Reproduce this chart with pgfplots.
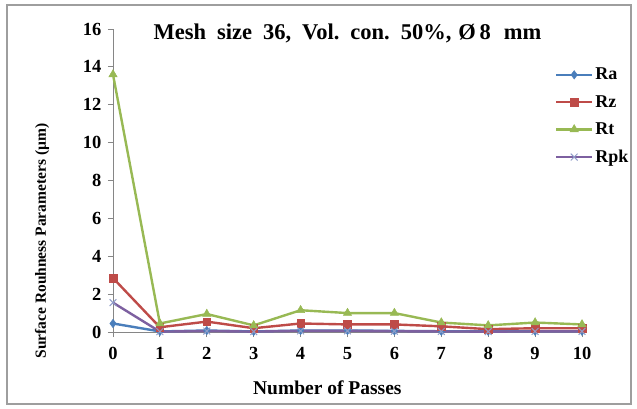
\documentclass[border=0pt]{standalone}
\usepackage{pgfplots}
\pgfplotsset{compat=1.18}
\usepackage{fontspec}
\setmainfont{Liberation Serif}
\definecolor{cRa}{HTML}{4A7EBB}
\definecolor{cRz}{HTML}{BE4B48}
\definecolor{cRt}{HTML}{98B954}
\definecolor{cRpk}{HTML}{7D60A0}
\definecolor{axgray}{HTML}{868686}
\begin{document}
\begin{tikzpicture}[x=1pt,y=1pt]
\useasboundingbox (-113,-76) rectangle (524,332);
\draw[color=axgray!80, line width=1.2pt] (-106,-72) rectangle (518,327);
\begin{axis}[
  at={(0,0)}, anchor=south west,
  scale only axis, width=469pt, height=303pt,
  xmin=0, xmax=10, ymin=0, ymax=16,
  axis x line=bottom, axis y line=left,
  axis line style={color=axgray, line width=0.9pt, -},
  xtick={0,...,10}, ytick={0,2,...,16},
  tick align=outside, major tick length=5pt,
  tick style={color=axgray, line width=0.9pt},
  ticklabel style={font=\fontsize{18.5}{22}\selectfont\bfseries},
  /pgf/number format/assume math mode=true,
  xticklabel style={yshift=-7pt},
  yticklabel style={xshift=-3pt},
  xlabel={Number of Passes},
  ylabel={Surface Rouhness Parameters (\textmu m)},
  xlabel style={font=\fontsize{19.5}{23}\selectfont\bfseries, at={(axis description cs:0.457,-0.185)}, anchor=center},
  ylabel style={font=\fontsize{15.5}{18}\selectfont\bfseries, at={(axis description cs:-0.151,0.30)}, anchor=center, rotate=0},
  clip=false,
  legend style={draw=none, fill=none, at={(axis description cs:0.942,0.878)}, anchor=north west,
    font=\fontsize{18}{21}\selectfont\bfseries, row sep=10pt, inner sep=0pt},
  legend cell align=left,
  legend image code/.code={
    \draw[#1, mark repeat=2, mark phase=2] plot coordinates {(0pt,0pt) (18pt,0pt) (36pt,0pt)};
  },
]
\addplot[color=cRa, line width=2.4pt, mark=diamond*, mark size=4.2pt, mark options={fill=cRa, line width=0.5pt}]
 coordinates {(0,0.45) (1,0.03) (2,0.08) (3,0.03) (4,0.08) (5,0.08) (6,0.06) (7,0.04) (8,0.04) (9,0.04) (10,0.04)};
\addlegendentry{Ra}
\addplot[color=cRz, line width=2.4pt, mark=square*, mark size=3.8pt, mark options={fill=cRz, line width=0.5pt}]
 coordinates {(0,2.85) (1,0.25) (2,0.55) (3,0.2) (4,0.45) (5,0.4) (6,0.4) (7,0.3) (8,0.15) (9,0.2) (10,0.2)};
\addlegendentry{Rz}
\addplot[color=cRt, line width=2.4pt, mark=triangle*, mark size=4.8pt, mark options={fill=cRt, line width=0.5pt}]
 coordinates {(0,13.6) (1,0.45) (2,0.95) (3,0.35) (4,1.15) (5,1.0) (6,1.0) (7,0.5) (8,0.35) (9,0.5) (10,0.4)};
\addlegendentry{Rt}
\addplot[color=cRpk, line width=2.4pt, mark=x, mark size=4.8pt, mark options={color=cRa!60!cRpk!70, line width=1pt}]
 coordinates {(0,1.55) (1,0.02) (2,0.05) (3,0.02) (4,0.06) (5,0.06) (6,0.04) (7,0.03) (8,0.02) (9,0.03) (10,0.03)};
\addlegendentry{Rpk}
\node[font=\fontsize{22.5}{26}\selectfont\bfseries, anchor=center] at (rel axis cs:0.5,0.986) {Mesh\hspace{11pt}size\hspace{11pt}36,\hspace{11pt}Vol.\hspace{11pt}con.\hspace{11pt}50\%,\hspace{7pt}Ø\,8\hspace{13pt}mm};
\end{axis}
\end{tikzpicture}
\end{document}
